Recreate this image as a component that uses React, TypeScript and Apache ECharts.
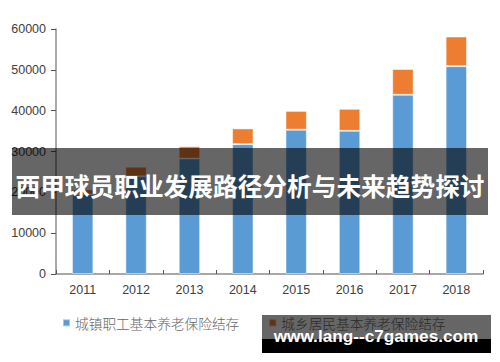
import React, { useEffect, useRef } from "react";
import * as echarts from "echarts";

const years = ["2011", "2012", "2013", "2014", "2015", "2016", "2017", "2018"];
const urbanEmployee = [19497, 23941, 28269, 31800, 35345, 35058, 43885, 50901];
const urbanRural = [1199, 2302, 3006, 3845, 4592, 5385, 6318, 7250];
const seriesNames = ["城镇职工基本养老保险结存", "城乡居民基本养老保险结存"];
const bannerTitle = "西甲球员职业发展路径分析与未来趋势探讨";
const watermark = "www.lang--c7games.com";

export default function App() {
  const ref = useRef<HTMLDivElement>(null);
  useEffect(() => {
    if (!ref.current) return;
    const chart = echarts.init(ref.current, null, { renderer: "svg" });
    const axisColor = "#8c8c8c";
    chart.setOption({
      animation: false,
      backgroundColor: "#ffffff",
      grid: { left: 56, right: 17, top: 29, bottom: 88 },
      legend: {
        left: 57,
        top: 311,
        itemWidth: 7,
        itemHeight: 7,
        itemGap: 29,
        icon: "rect",
        textStyle: {
          fontFamily: "Noto Sans CJK SC",
          fontSize: 13.7,
          fontWeight: 300,
          color: "#666666",
        },
        data: seriesNames,
      },
      xAxis: {
        type: "category",
        data: years,
        axisLine: { lineStyle: { color: axisColor, width: 1.5 } },
        axisTick: { show: true, inside: true, length: 4, lineStyle: { color: "#555" } },
        axisLabel: {
          margin: 9,
          fontFamily: "Liberation Sans",
          fontSize: 12.5,
          color: "#404040",
        },
      },
      yAxis: {
        type: "value",
        min: 0,
        max: 60000,
        interval: 10000,
        splitLine: { show: false },
        axisLine: { show: true, lineStyle: { color: axisColor, width: 1.5 } },
        axisTick: { show: true, length: 5, lineStyle: { color: "#555" } },
        axisLabel: {
          margin: 10,
          fontFamily: "Liberation Sans",
          fontSize: 12.5,
          color: "#404040",
          formatter: (v: number) => String(v),
        },
      },
      series: [
        {
          name: seriesNames[0],
          type: "bar",
          stack: "total",
          barWidth: "40%",
          data: urbanEmployee,
          itemStyle: { color: "#5B9BD5", borderColor: "rgba(255,255,255,0.45)", borderWidth: 1 },
        },
        {
          name: seriesNames[1],
          type: "bar",
          stack: "total",
          barWidth: "40%",
          data: urbanRural,
          itemStyle: { color: "#ED7D31", borderColor: "rgba(255,255,255,0.45)", borderWidth: 1 },
        },
      ],
      graphic: [
        {
          type: "rect",
          z: 100,
          shape: { x: 12, y: 148, width: 476, height: 67 },
          style: { fill: "rgba(0,0,0,0.6)" },
        },
        {
          type: "text",
          z: 101,
          x: 250,
          y: 185,
          style: {
            text: bannerTitle,
            fill: "#ffffff",
            fontFamily: "Noto Sans CJK SC",
            fontWeight: "bold",
            fontSize: 24.7,
            align: "center",
            verticalAlign: "middle",
          },
        },
        {
          type: "rect",
          z: 100,
          shape: { x: 262, y: 315, width: 229, height: 24 },
          style: { fill: "rgba(0,0,0,0.6)" },
        },
        {
          type: "rect",
          z: 100,
          shape: { x: 262, y: 339, width: 229, height: 14 },
          style: { fill: "#000000" },
        },
        {
          type: "text",
          z: 101,
          x: 376,
          y: 336,
          style: {
            text: watermark,
            fill: "#ffffff",
            fontFamily: "Liberation Sans",
            fontWeight: "bold",
            fontSize: 17.2,
            align: "center",
            verticalAlign: "middle",
          },
        },
      ],
    });
    return () => chart.dispose();
  }, []);
  return <div ref={ref} style={{ width: 500, height: 362, margin: -8 }} />;
}
